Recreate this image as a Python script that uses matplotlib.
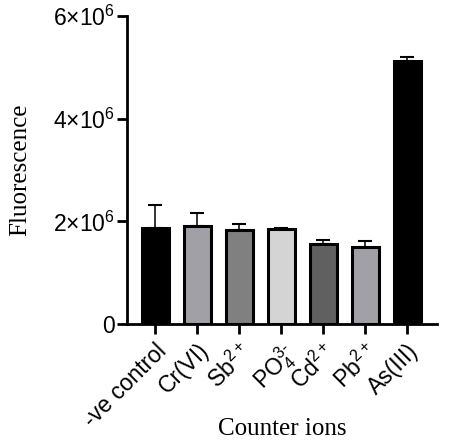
import numpy as np
import matplotlib.pyplot as plt

plt.rcParams['font.family'] = ['Liberation Sans', 'DejaVu Sans']
plt.rcParams['mathtext.default'] = 'regular'

# Data
labels = ['-ve control', 'Cr(VI)', 'Sb$^{2+}$', 'PO$_4^{3\u2010}$', 'Cd$^{2+}$', 'Pb$^{2+}$', 'As(III)']
values = [1.86e6, 1.90e6, 1.84e6, 1.85e6, 1.55e6, 1.50e6, 5.13e6]
errors = [0.46e6, 0.27e6, 0.11e6, 0.02e6, 0.08e6, 0.12e6, 0.07e6]
colors = ['#000000', '#a0a0a6', '#808080', '#d4d4d4', '#606060', '#a0a0a6', '#000000']

fig = plt.figure(figsize=(4.51, 4.45), dpi=100)
ax = fig.add_axes([0.2816, 0.272, 0.6874, 0.692])

x = np.arange(len(labels))
ax.bar(x, values, width=0.64, color=colors, edgecolor='black', linewidth=2.2, zorder=2)
ax.errorbar(x, values, yerr=[np.zeros(len(errors)), errors], fmt='none',
            ecolor='black', elinewidth=1.1, capsize=5.2, capthick=1.5, zorder=1)

ax.set_xlim(-0.67, 6.71)
ax.set_ylim(0, 6e6)
ax.set_yticks([0, 2e6, 4e6, 6e6])
ax.set_yticklabels(['0', '2×10$^6$', '4×10$^6$', '6×10$^6$'], fontsize=16.5)
ax.set_xticks(x)
ax.set_xticklabels(labels, rotation=45, ha='right', va='top', rotation_mode='anchor', fontsize=16.5)

for s in ['top', 'right']:
    ax.spines[s].set_visible(False)
for s in ['left', 'bottom']:
    ax.spines[s].set_linewidth(2.0)
ax.tick_params(axis='both', width=2.0, length=7, pad=2)
ax.tick_params(axis='x', pad=4)

ax.set_ylabel('Fluorescence', family='Liberation Serif', fontsize=18)
ax.yaxis.set_label_coords(-0.31, 0.5)
ax.set_xlabel('Counter ions', family='Liberation Serif', fontsize=18)
ax.xaxis.set_label_coords(0.5, -0.305)

fig.savefig('out.png', dpi=100)
